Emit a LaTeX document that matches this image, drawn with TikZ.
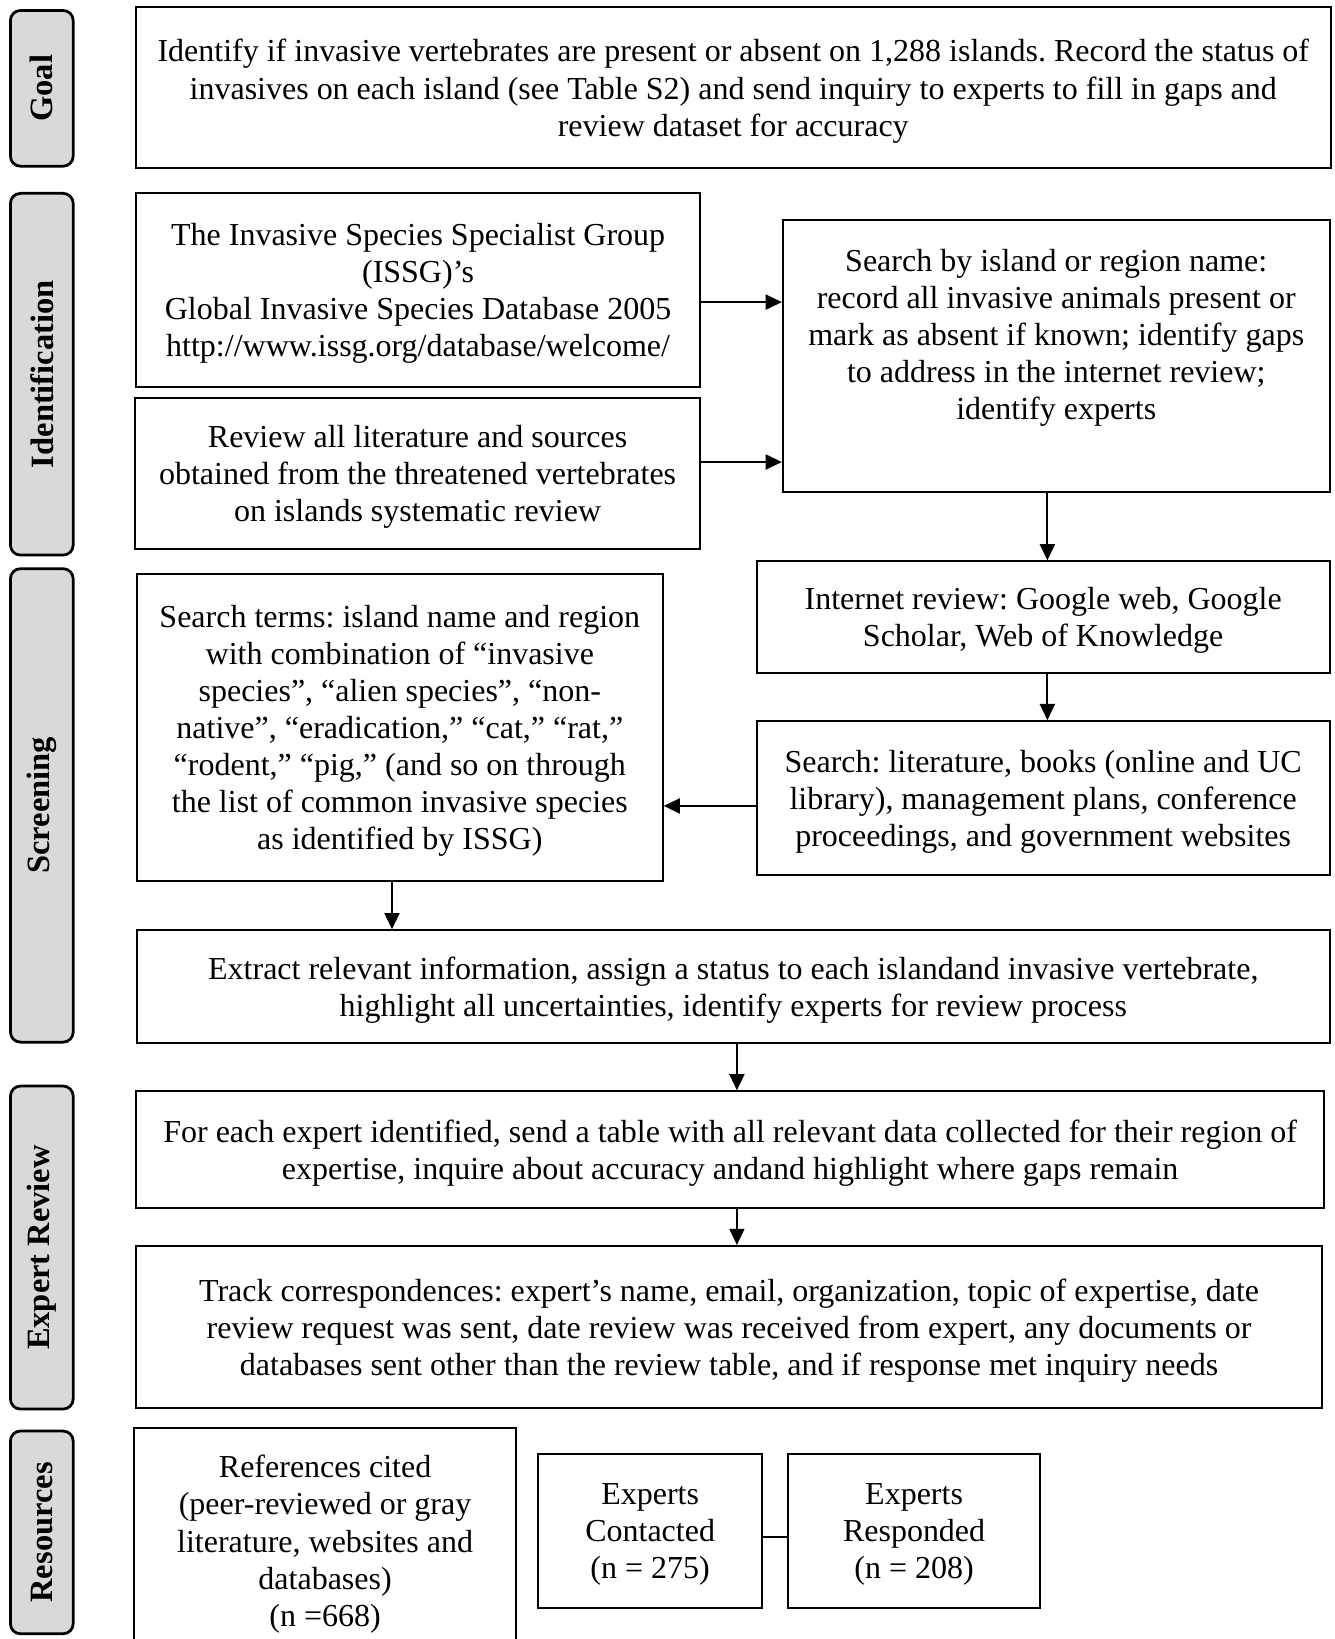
\documentclass[tikz,border=0pt]{standalone}
\usepackage{fontspec}
\setmainfont{Liberation Serif}
\usetikzlibrary{arrows.meta}
\definecolor{sidegray}{RGB}{217,217,217}
\frenchspacing

\begin{document}
\begin{tikzpicture}[x=0.41816pt, y=-0.41816pt,
  box/.style={draw, line width=0.8pt, align=center, inner sep=2pt, text depth=0pt, font=\fontsize{12.8}{14.85}\selectfont},
  side/.style={draw, line width=1.1pt, fill=sidegray, rounded corners=4pt, rotate=90, minimum height=25.1pt, inner sep=0pt, font=\fontsize{13}{14}\selectfont\bfseries},
  arr/.style={line width=0.8pt, -{Triangle[length=6.5pt, width=6pt]}}]

\useasboundingbox (0,0) rectangle (1277,1568);

% stage labels
\node[side, minimum width=62.3pt] (lgoal) at (40,84.5) {Goal};
\node[side, minimum width=144.7pt] (lident) at (40,358) {Identification};
\node[side, minimum width=189.4pt] (lscreen) at (40,770.5) {Screening};
\node[side, minimum width=129.2pt] (lexpert) at (40,1193.5) {Expert Review};
\node[side, minimum width=81.1pt] (lres) at (40,1466) {Resources};

% goal
\node[box, minimum width=478pt, minimum height=64.4pt] (goal) at (701.5,84) {Identify if invasive vertebrates are present or absent on 1,288 islands. Record the status of\\ invasives on each island (see Table S2) and send inquiry to experts to fill in gaps and\\ review dataset for accuracy};

% identification
\node[box, minimum width=225.8pt, minimum height=77.4pt] (issg) at (400,277.5) {The Invasive Species Specialist Group\\ (ISSG)’s\\ Global Invasive Species Database 2005\\ http://www.issg.org/database/welcome/};
\node[box, minimum width=226.2pt, minimum height=60.2pt] (review) at (399.5,453) {Review all literature and sources\\ obtained from the threatened vertebrates\\ on islands systematic review};
\node[box, minimum width=218.7pt, minimum height=109.1pt, text depth=17.2pt] (search) at (1010.5,340.5) {Search by island or region name:\\ record all invasive animals present or\\ mark as absent if known; identify gaps\\ to address in the internet review;\\ identify experts};

% screening
\node[box, minimum width=229.2pt, minimum height=44.7pt] (internet) at (998,590.5) {Internet review: Google web, Google\\ Scholar, Web of Knowledge};
\node[box, minimum width=229.2pt, minimum height=61.5pt, text depth=-2pt] (lit) at (998,763.5) {Search: literature, books (online and UC\\ library), management plans, conference\\ proceedings, and government websites};
\node[box, minimum width=210.3pt, minimum height=122.9pt] (terms) at (382.5,696) {Search terms: island name and region\\ with combination of “invasive\\ species”, “alien species”, “non-\\ native”, “eradication,” “cat,” “rat,”\\ “rodent,” “pig,” (and so on through\\ the list of common invasive species\\ as identified by ISSG)};
\node[box, minimum width=477.1pt, minimum height=45.2pt] (extract) at (701.5,944) {Extract relevant information, assign a status to each islandand invasive vertebrate,\\ highlight all uncertainties, identify experts for review process};

% expert review
\node[box, minimum width=475.5pt, minimum height=46.8pt] (foreach) at (698.5,1100) {For each expert identified, send a table with all relevant data collected for their region of\\ expertise, inquire about accuracy andand highlight where gaps remain};
\node[box, minimum width=474.6pt, minimum height=64.8pt] (track) at (697.5,1269.5) {Track correspondences: expert’s name, email, organization, topic of expertise, date\\ review request was sent, date review was received from expert, any documents or\\ databases sent other than the review table, and if response met inquiry needs};

% resources
\node[box, minimum width=153pt, minimum height=90.3pt] (refs) at (311,1474) {References cited\\ (peer-reviewed or gray\\ literature, websites and\\ databases)\\ (n =668)};
\node[box, minimum width=89.5pt, minimum height=61.5pt] (contacted) at (622,1464.5) {Experts\\ Contacted\\ (n = 275)};
\node[box, minimum width=100.8pt, minimum height=61.5pt] (responded) at (874.5,1464.5) {Experts\\ Responded\\ (n = 208)};

% connectors
\draw[arr] (issg.east |- 0,289) -- (search.west |- 0,289);
\draw[arr] (review.east |- 0,442) -- (search.west |- 0,442);
\draw[arr] (search.south -| 1002,0) -- (internet.north -| 1002,0);
\draw[arr] (internet.south -| 1002,0) -- (lit.north -| 1002,0);
\draw[arr] (lit.west |- 0,771) -- (terms.east |- 0,771);
\draw[arr] (terms.south -| 375,0) -- (extract.north -| 375,0);
\draw[arr] (extract.south -| 705,0) -- (foreach.north -| 705,0);
\draw[arr] (foreach.south -| 705,0) -- (track.north -| 705,0);
\draw[line width=0.8pt] (contacted.east |- 0,1470) -- (responded.west |- 0,1470);

\end{tikzpicture}
\end{document}
